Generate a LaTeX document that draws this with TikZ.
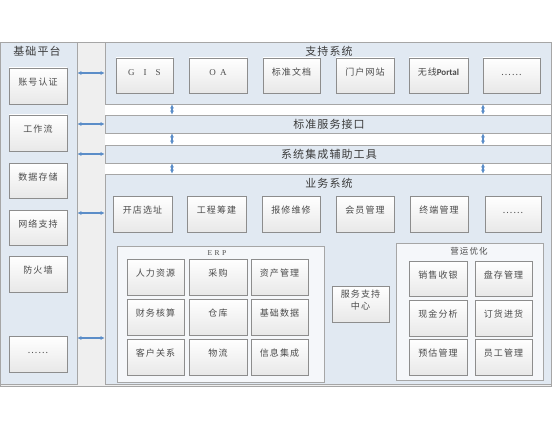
\documentclass[tikz,border=0pt]{standalone}
\usepackage{fontspec}
\setmainfont{Noto Sans CJK SC}
\newfontfamily\cjkb[LetterSpace=12]{Noto Sans CJK SC}
\newfontfamily\cjkt[LetterSpace=10]{Noto Sans CJK SC}
\newfontfamily\latn{Liberation Serif}
\newfontfamily\carl{Carlito}
\usetikzlibrary{arrows.meta,fit}
\definecolor{panelc}{HTML}{E1E9F2}
\definecolor{stripc}{HTML}{EFEFEF}
\definecolor{edgec}{HTML}{A6A6A6}
\definecolor{txtc}{HTML}{4A4A4A}
\definecolor{arrc}{HTML}{5B8DC8}
\definecolor{grpc}{HTML}{F5F7FA}
\tikzset{
  panel/.style={draw=edgec, fill=panelc, inner sep=0pt, line width=0.6pt},
  grp/.style={draw=edgec, fill=grpc, inner sep=0pt, line width=0.6pt},
  bx/.style={draw=edgec!85!black, top color=white, bottom color=black!9, inner sep=0pt,
    line width=0.6pt, text=txtc, font=\cjkb\fontsize{9}{11.5}\selectfont, align=center},
  ttl/.style={text=txtc!80!black, font=\cjkt\fontsize{11}{12}\selectfont, inner sep=0pt},
  sttl/.style={text=txtc, font=\cjkb\fontsize{8.5}{10}\selectfont, inner sep=0pt},
  arr/.style={draw=arrc, line width=1.1pt, {Latex[length=4pt,width=4pt]}-{Latex[length=4pt,width=4pt]}}
}
\newcommand\bxn[7]{\node[#1, fit={(#3,#4) (#5,#6)}] (#2) {#7};}
\begin{document}
\begin{tikzpicture}[x=1pt,y=-1pt]
\useasboundingbox (0,0) rectangle (552,428);
% outer frame and strip
\node[draw=edgec, fill=stripc, inner sep=0pt, line width=0.6pt, fit={(0,42) (551,386)}] (frame) {};
\node[panel, fit={(0,42) (77,384)}] (lp) {};
\node[ttl, anchor=center] (lpt) at (37,51) {基础平台};
% right column panels
\fill[white] (105,42) rectangle (551,384);
\node[panel, fit={(105,42) (551,104)}] (sup) {};
\node[panel, fit={(105,115) (551,133)}] (if1) {};
\node[panel, fit={(105,145) (551,163)}] (if2) {};
\node[panel, fit={(105,174) (551,384)}] (bus) {};
\node[ttl] (supt) at (329,51) {支持系统};
\node[ttl] (if1t) at (329,124) {标准服务接口};
\node[ttl] (if2t) at (329,154) {系统集成辅助工具};
\node[ttl] (bust) at (329,183) {业务系统};
% left boxes
\bxn{bx}{l1}{9}{68}{67}{104}{账号认证}
\bxn{bx}{l2}{9}{115}{67}{151}{工作流}
\bxn{bx}{l3}{9}{163}{67}{198}{数据存储}
\bxn{bx}{l4}{9}{210}{67}{245}{网络支持}
\bxn{bx}{l5}{9}{256}{67}{292}{防火墙}
\bxn{bx}{l6}{9}{336}{67}{372}{......}
% support row
\bxn{bx}{s1}{116}{58}{173}{93}{{\latn\fontsize{9}{10}\selectfont G\quad I\quad S}}
\bxn{bx}{s2}{189}{58}{247}{93}{{\latn\fontsize{9}{10}\selectfont O\enspace A}}
\bxn{bx}{s3}{263}{58}{320}{93}{标准文档}
\bxn{bx}{s4}{336}{58}{394}{93}{门户网站}
\bxn{bx}{s5}{409}{58}{468}{93}{{\cjkt\fontsize{9}{10}\selectfont 无线}{\carl\bfseries\fontsize{9}{10}\selectfont Portal}}
\bxn{bx}{s6}{483}{58}{540}{93}{......}
% business row
\bxn{bx}{b1}{113}{196}{172}{232}{开店选址}
\bxn{bx}{b2}{187}{196}{246}{232}{工程筹建}
\bxn{bx}{b3}{262}{196}{320}{232}{报修维修}
\bxn{bx}{b4}{336}{196}{394}{232}{会员管理}
\bxn{bx}{b5}{410}{196}{468}{232}{终端管理}
\bxn{bx}{b6}{485}{196}{541}{232}{......}
% ERP
\node[grp, fit={(117,246) (324,382)}] (erp) {};
\node[text=txtc, font=\latn\fontsize{7.5}{8}\selectfont, inner sep=0pt] (erpt) at (217,253) {E\,\,R\,\,P};
\bxn{bx}{e11}{127}{259}{184}{295}{人力资源}
\bxn{bx}{e12}{189}{259}{247}{295}{采购}
\bxn{bx}{e13}{251}{259}{308}{295}{资产管理}
\bxn{bx}{e21}{127}{299}{184}{335}{财务核算}
\bxn{bx}{e22}{189}{299}{247}{335}{仓库}
\bxn{bx}{e23}{251}{299}{308}{335}{基础数据}
\bxn{bx}{e31}{127}{339}{184}{375}{客户关系}
\bxn{bx}{e32}{189}{339}{247}{375}{物流}
\bxn{bx}{e33}{251}{339}{308}{375}{信息集成}
% service center
\bxn{bx}{svc}{332}{286}{389}{322}{服务支持\\中心}
% operations
\node[grp, fit={(396,243) (543,380)}] (yy) {};
\node[sttl] (yyt) at (469,251) {营运优化};
\bxn{bx}{y11}{409}{261}{467}{296}{销售收银}
\bxn{bx}{y12}{475}{261}{532}{296}{盘存管理}
\bxn{bx}{y21}{409}{300}{467}{336}{现金分析}
\bxn{bx}{y22}{475}{300}{532}{336}{订货进货}
\bxn{bx}{y31}{409}{339}{467}{375}{预估管理}
\bxn{bx}{y32}{475}{339}{532}{375}{员工管理}
% arrows
\coordinate (h1) at (0,73);
\coordinate (h2) at (0,124);
\coordinate (h3) at (0,154);
\coordinate (h4) at (0,213);
\coordinate (h5) at (0,338);
\coordinate (va) at (172,0);
\coordinate (vb) at (483,0);
\draw[arr] (lp.east |- h1) -- (sup.west |- h1);
\draw[arr] (lp.east |- h2) -- (if1.west |- h2);
\draw[arr] (lp.east |- h3) -- (if2.west |- h3);
\draw[arr] (lp.east |- h4) -- (bus.west |- h4);
\draw[arr] (lp.east |- h5) -- (bus.west |- h5);
\draw[arr] (sup.south -| va) -- (if1.north -| va);
\draw[arr] (if1.south -| va) -- (if2.north -| va);
\draw[arr] (if2.south -| va) -- (bus.north -| va);
\draw[arr] (sup.south -| vb) -- (if1.north -| vb);
\draw[arr] (if1.south -| vb) -- (if2.north -| vb);
\draw[arr] (if2.south -| vb) -- (bus.north -| vb);
\end{tikzpicture}
\end{document}
